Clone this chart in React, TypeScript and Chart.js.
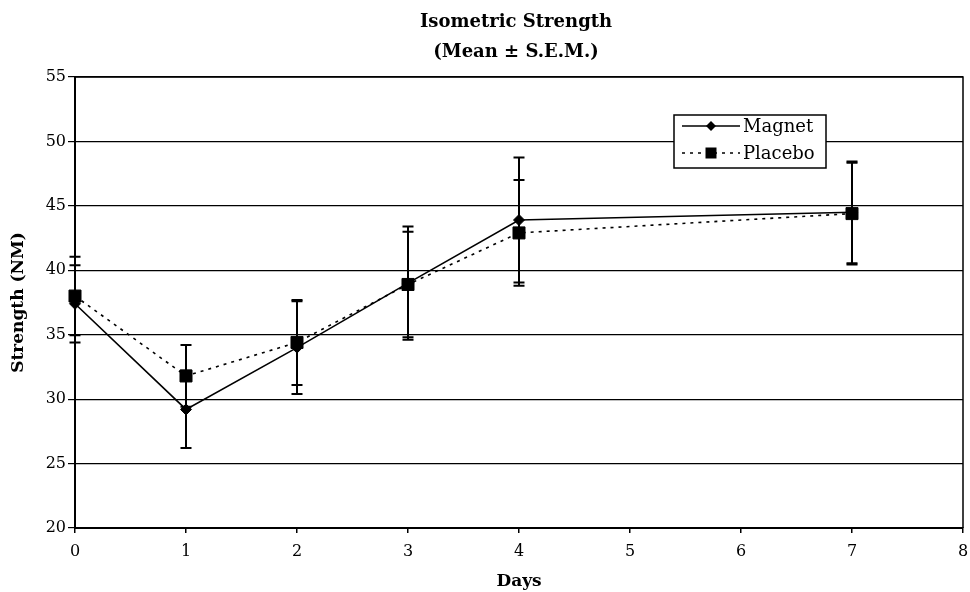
import React, { useEffect, useRef } from "react";
import { Chart, registerables } from "chart.js";

Chart.register(...registerables);

const days = [0, 1, 2, 3, 4, 7];
const magnetMean = [37.4, 29.2, 34.0, 39.0, 43.9, 44.5];
const magnetSem = [3.0, 3.0, 3.6, 4.4, 4.85, 3.95];
const placeboMean = [38.0, 31.8, 34.4, 38.9, 42.9, 44.4];
const placeboSem = [3.05, 2.4, 3.3, 4.1, 4.1, 3.95];

const titleLines = ["Isometric Strength", "(Mean ± S.E.M.)"];
const seriesNames = ["Magnet", "Placebo"];
const xTitle = "Days";
const yTitle = "Strength (NM)";
const yMin = 20;
const yMax = 55;
const yStep = 5;
const xMin = 0;
const xMax = 8;

const FONT = "'DejaVu Serif', serif";

const errorBarPlugin = {
  id: "errorBars",
  afterDatasetsDraw(chart: any) {
    const { ctx, scales } = chart;
    const xs = scales.x;
    const ys = scales.y;
    const sets = [
      { m: magnetMean, s: magnetSem },
      { m: placeboMean, s: placeboSem },
    ];
    ctx.save();
    ctx.strokeStyle = "#000";
    ctx.lineWidth = 2;
    sets.forEach(({ m, s }) => {
      days.forEach((d, i) => {
        const x = xs.getPixelForValue(d);
        const yTop = ys.getPixelForValue(m[i] + s[i]);
        const yBot = ys.getPixelForValue(m[i] - s[i]);
        ctx.beginPath();
        ctx.moveTo(x, yTop);
        ctx.lineTo(x, yBot);
        ctx.moveTo(x - 5.5, yTop);
        ctx.lineTo(x + 5.5, yTop);
        ctx.moveTo(x - 5.5, yBot);
        ctx.lineTo(x + 5.5, yBot);
        ctx.stroke();
      });
    });
    ctx.restore();
  },
};

const framePlugin = {
  id: "frame",
  afterDatasetsDraw(chart: any) {
    const { ctx, chartArea } = chart;
    ctx.save();
    ctx.strokeStyle = "#000";
    ctx.lineWidth = 1.5;
    ctx.beginPath();
    ctx.moveTo(chartArea.left, chartArea.top);
    ctx.lineTo(chartArea.right, chartArea.top);
    ctx.lineTo(chartArea.right, chartArea.bottom);
    ctx.stroke();
    ctx.restore();
  },
};

const titleLegendPlugin = {
  id: "titleLegend",
  afterDraw(chart: any) {
    const { ctx, chartArea } = chart;
    ctx.save();
    // title
    const cx = (chartArea.left + chartArea.right) / 2 - 3;
    ctx.fillStyle = "#000";
    ctx.textAlign = "center";
    ctx.textBaseline = "alphabetic";
    ctx.font = `bold 18px ${FONT}`;
    ctx.fillText(titleLines[0], cx, 27);
    ctx.fillText(titleLines[1], cx, 57);

    // legend box
    const bx = chartArea.left + 599;
    const by = chartArea.top + 38;
    const bw = 152;
    const bh = 53;
    ctx.fillStyle = "#fff";
    ctx.fillRect(bx, by, bw, bh);
    ctx.strokeStyle = "#000";
    ctx.lineWidth = 1.5;
    ctx.strokeRect(bx, by, bw, bh);

    const rows = [
      { y: by + 11, dash: [] as number[], style: "diamond", name: seriesNames[0] },
      { y: by + 38, dash: [3, 5], style: "square", name: seriesNames[1] },
    ];
    rows.forEach((r) => {
      const x1 = bx + 8;
      const x2 = bx + 66;
      const mx = bx + 37;
      ctx.strokeStyle = "#000";
      ctx.lineWidth = 1.5;
      ctx.setLineDash(r.dash);
      ctx.beginPath();
      ctx.moveTo(x1, r.y);
      ctx.lineTo(x2, r.y);
      ctx.stroke();
      ctx.setLineDash([]);
      ctx.fillStyle = "#000";
      ctx.beginPath();
      if (r.style === "diamond") {
        ctx.moveTo(mx - 5, r.y);
        ctx.lineTo(mx, r.y - 5);
        ctx.lineTo(mx + 5, r.y);
        ctx.lineTo(mx, r.y + 5);
        ctx.closePath();
      } else {
        ctx.rect(mx - 5.5, r.y - 5.5, 11, 11);
      }
      ctx.fill();
      ctx.font = `18px ${FONT}`;
      ctx.textAlign = "left";
      ctx.textBaseline = "middle";
      ctx.fillText(r.name, bx + 69, r.y + 1);
    });
    ctx.restore();
  },
};

export default function App() {
  const ref = useRef<HTMLCanvasElement | null>(null);

  useEffect(() => {
    if (!ref.current) return;
    Chart.defaults.font.family = FONT;
    Chart.defaults.color = "#000";
    const chart = new Chart(ref.current, {
      type: "line",
      data: {
        datasets: [
          {
            label: seriesNames[0],
            data: days.map((d, i) => ({ x: d, y: magnetMean[i] })),
            borderColor: "#000",
            backgroundColor: "#000",
            borderWidth: 1.6,
            pointStyle: "rectRot",
            pointRadius: 5.5,
            pointBorderWidth: 1,
            tension: 0,
            clip: false,
          },
          {
            label: seriesNames[1],
            data: days.map((d, i) => ({ x: d, y: placeboMean[i] })),
            borderColor: "#000",
            backgroundColor: "#000",
            borderWidth: 1.6,
            borderDash: [3, 5],
            pointStyle: "rect",
            pointRadius: 8.5,
            pointBorderWidth: 1,
            tension: 0,
            clip: false,
          },
        ],
      },
      options: {
        responsive: false,
        animation: false,
        devicePixelRatio: 1,
        layout: { autoPadding: false, padding: { top: 77, right: 7, left: 0, bottom: 0 } },
        plugins: {
          legend: { display: false },
          tooltip: { enabled: false },
          title: { display: false },
        },
        scales: {
          x: {
            type: "linear",
            min: xMin,
            max: xMax,
            afterFit: (s: any) => {
              s.height = 64;
              s.paddingLeft = 0;
              s.paddingRight = 0;
            },
            ticks: {
              stepSize: 1,
              color: "#000",
              padding: 9,
              font: { size: 16, family: FONT },
            },
            grid: {
              drawOnChartArea: false,
              drawTicks: true,
              tickLength: 5,
              color: "#000",
              lineWidth: 1.5,
            },
            border: { display: true, color: "#000", width: 2 },
            title: {
              display: true,
              text: xTitle,
              color: "#000",
              font: { size: 17, weight: "bold", family: FONT },
              padding: { top: 0, bottom: 0 },
            },
          },
          y: {
            min: yMin,
            max: yMax,
            afterFit: (s: any) => {
              s.width = 75;
            },
            ticks: {
              stepSize: yStep,
              color: "#000",
              padding: 2,
              font: { size: 16, family: FONT },
            },
            grid: {
              color: "#000",
              lineWidth: 1.2,
              drawTicks: true,
              tickLength: 7,
            },
            border: { display: true, color: "#000", width: 2 },
            title: {
              display: true,
              text: yTitle,
              color: "#000",
              font: { size: 17, weight: "bold", family: FONT },
              padding: { top: 8, bottom: 0 },
            },
          },
        },
      },
      plugins: [errorBarPlugin, framePlugin, titleLegendPlugin],
    } as any);
    return () => chart.destroy();
  }, []);

  return (
    <div style={{ position: "fixed", left: 0, top: 0, width: 970, height: 592, background: "#fff" }}>
      <canvas ref={ref} width={970} height={592} style={{ width: 970, height: 592, display: "block" }} />
    </div>
  );
}
